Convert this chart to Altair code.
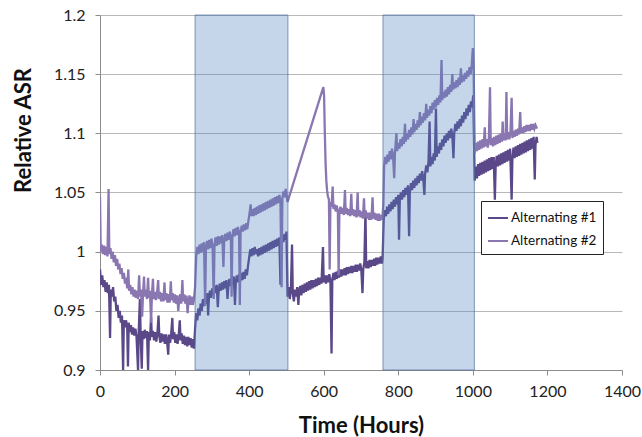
import altair as alt
import pandas as pd

# ---- data (time in hours, relative ASR) ----
alt1 = [  # Alternating #1 (dark)
    (0,0.985),(3,0.972),(6,0.980),(9,0.970),(12,0.976),(15,0.966),(18,0.974),(21,0.965),(24,0.972),(27,0.927),
    (29,0.968),(32,0.962),(35,0.970),(38,0.958),(41,0.962),(44,0.950),(47,0.955),(50,0.944),(53,0.950),(56,0.940),
    (59,0.946),(62,0.900),(64,0.942),(67,0.936),(70,0.942),(73,0.935),(75,0.903),(77,0.940),(80,0.932),(83,0.938),
    (86,0.930),(89,0.936),(92,0.929),(95,0.935),(98,0.928),(102,0.900),(104,0.934),(107,0.960),(109,0.930),(112,0.901),
    (114,0.933),(117,0.926),(120,0.934),(123,0.927),(126,0.933),(129,0.900),(131,0.932),(134,0.925),(137,0.945),(139,0.928),
    (142,0.933),(145,0.925),(148,0.932),(151,0.924),(154,0.931),(157,0.946),(159,0.929),(162,0.923),(165,0.931),(168,0.924),
    (171,0.930),(174,0.922),(177,0.930),(180,0.924),(183,0.913),(185,0.930),(188,0.923),(191,0.931),(194,0.944),(196,0.926),
    (199,0.932),(202,0.923),(205,0.930),(208,0.922),(211,0.929),(214,0.942),(216,0.925),(219,0.931),(222,0.922),(225,0.929),
    (228,0.921),(231,0.928),(234,0.920),(237,0.928),(240,0.921),(243,0.927),(246,0.919),(249,0.926),(252,0.918),
    (255,0.935),(258,0.948),(261,0.942),(264,0.952),(267,0.946),(270,0.956),(273,0.950),(276,0.960),(279,0.954),(282,0.962),
    (285,0.956),(288,0.965),(290,0.946),(292,0.960),(295,0.967),(298,0.961),(301,0.969),(304,0.963),(307,0.971),(310,0.965),
    (313,0.972),(316,0.953),(318,0.966),(321,0.973),(324,0.967),(327,0.974),(330,0.968),(333,0.975),(336,0.969),(339,0.976),
    (342,0.960),(344,0.970),(347,0.977),(350,0.971),(353,0.978),(356,0.972),(359,0.979),(362,0.955),(364,0.973),(367,0.980),
    (370,0.974),(373,0.981),(376,0.975),(379,0.982),(382,0.976),(385,0.983),(388,0.977),(391,0.985),(394,0.980),(397,0.988),
    (400,0.995),(403,1.002),(406,0.996),(409,1.003),(412,0.997),(415,1.004),(418,0.998),(421,1.002),(424,0.996),(427,1.003),
    (430,0.997),(433,1.004),(436,0.998),(439,1.005),(442,0.999),(445,1.006),(448,1.000),(451,1.007),(454,1.001),(457,1.008),
    (460,1.002),(463,1.009),(466,1.003),(469,1.010),(472,1.004),(475,1.011),(478,1.005),(481,1.012),(484,0.972),(486,1.007),
    (489,1.014),(492,1.008),(495,1.015),(498,1.010),(500,1.017),
    (503,0.962),(506,0.970),(509,0.960),(512,0.968),(515,1.006),(517,0.965),(520,0.958),(523,0.968),(526,0.962),(529,0.970),
    (532,0.955),(534,0.966),(537,0.971),(540,0.963),(543,0.972),(546,0.965),(549,0.973),(552,0.966),(555,0.974),(558,0.967),
    (561,0.975),(564,0.968),(567,0.976),(570,0.969),(573,0.976),(576,0.970),(579,0.977),(582,0.971),(585,0.978),(588,0.972),
    (591,0.978),(594,0.973),(598,1.004),(600,0.974),(603,0.980),(606,0.973),(609,0.980),(612,0.974),(615,0.981),(618,0.975),
    (621,0.914),(623,0.976),(626,0.982),(629,0.976),(632,0.983),(635,0.977),(638,0.984),(641,0.978),(644,0.985),(647,0.979),
    (650,0.985),(653,0.980),(656,0.986),(659,0.980),(662,0.987),(665,0.981),(668,0.987),(671,0.982),(674,0.988),(677,0.982),
    (680,0.988),(683,0.983),(686,0.989),(689,0.983),(692,0.989),(695,0.984),(698,0.990),(701,0.984),(704,0.965),(706,0.985),
    (709,0.991),(712,1.035),(714,0.986),(717,0.992),(720,0.986),(723,0.993),(726,0.987),(729,0.993),(732,0.988),(735,0.994),
    (738,0.988),(741,0.995),(744,0.989),(747,0.995),(750,0.990),(753,0.996),(756,0.990),(758,0.995),
    (761,1.028),(764,1.035),(767,1.030),(770,1.038),(773,1.032),(776,1.040),(779,1.034),(782,1.042),(785,1.036),(788,1.044),
    (791,1.038),(794,1.046),(797,1.040),(800,1.048),(802,1.010),(804,1.043),(807,1.050),(810,1.044),(813,1.052),(816,1.046),
    (819,1.054),(822,1.048),(826,1.056),(829,1.013),(831,1.050),(834,1.058),(837,1.052),(840,1.060),(843,1.054),(846,1.062),
    (849,1.056),(852,1.064),(855,1.058),(858,1.066),(861,1.060),(864,1.068),(867,1.062),(870,1.048),(872,1.066),(875,1.073),
    (878,1.067),(881,1.076),(884,1.110),(886,1.072),(889,1.080),(892,1.074),(895,1.083),(898,1.077),(901,1.121),(903,1.080),
    (906,1.089),(909,1.083),(912,1.092),(915,1.086),(918,1.095),(921,1.089),(924,1.098),(927,1.092),(930,1.100),(933,1.094),
    (936,1.102),(939,1.096),(942,1.104),(945,1.098),(948,1.079),(950,1.100),(953,1.108),(956,1.102),(959,1.110),(962,1.104),
    (965,1.112),(968,1.106),(971,1.115),(974,1.109),(977,1.118),(980,1.112),(983,1.121),(986,1.115),(989,1.124),(992,1.118),
    (995,1.127),(998,1.122),(1001,1.132),
    (1005,1.060),(1008,1.072),(1011,1.062),(1014,1.074),(1017,1.064),(1020,1.075),(1023,1.065),(1026,1.076),(1029,1.066),
    (1032,1.077),(1035,1.067),(1038,1.078),(1041,1.068),(1044,1.079),(1047,1.069),(1050,1.080),(1053,1.070),(1056,1.080),
    (1059,1.044),(1061,1.071),(1064,1.081),(1067,1.072),(1070,1.082),(1073,1.073),(1076,1.083),(1079,1.074),(1082,1.084),
    (1085,1.075),(1088,1.085),(1091,1.076),(1094,1.086),(1097,1.077),(1100,1.087),(1104,1.044),(1106,1.078),(1109,1.088),
    (1112,1.079),(1115,1.089),(1118,1.080),(1121,1.090),(1124,1.081),(1127,1.091),(1130,1.082),(1133,1.092),(1136,1.083),
    (1139,1.093),(1142,1.084),(1145,1.094),(1148,1.085),(1151,1.095),(1154,1.086),(1157,1.096),(1160,1.087),(1163,1.097),
    (1166,1.061),(1168,1.090),(1171,1.097),(1173,1.092),
]

alt2 = [  # Alternating #2 (light)
    (0,1.046),(2,1.000),(5,1.006),(8,0.998),(11,1.005),(14,0.997),(17,1.004),(20,0.996),(23,1.053),(25,0.998),
    (28,1.003),(31,0.994),(34,1.000),(37,0.991),(40,0.997),(43,0.988),(46,0.994),(49,0.985),(52,0.990),(55,0.981),
    (58,0.986),(61,0.977),(64,0.982),(67,0.973),(70,0.978),(73,0.969),(76,0.985),(78,0.967),(81,0.972),(84,0.964),
    (87,0.970),(90,0.962),(93,0.968),(96,0.961),(99,0.967),(102,0.960),(105,0.980),(107,0.962),(110,0.968),(113,0.945),
    (115,0.961),(118,0.979),(120,0.962),(123,0.968),(126,0.960),(129,0.978),(131,0.961),(134,0.967),(137,0.940),(139,0.962),
    (142,0.977),(144,0.960),(147,0.966),(150,0.959),(153,0.965),(156,0.976),(158,0.960),(161,0.966),(164,0.958),(167,0.965),
    (170,0.958),(173,0.974),(175,0.959),(178,0.965),(181,0.957),(184,0.964),(187,0.957),(190,0.975),(192,0.959),(195,0.965),
    (198,0.957),(201,0.964),(204,0.956),(207,0.963),(210,0.950),(212,0.958),(215,0.964),(218,0.956),(221,0.976),(223,0.958),
    (226,0.964),(229,0.956),(232,0.963),(235,0.948),(237,0.957),(240,0.963),(243,0.955),(246,0.962),(249,0.955),(252,0.960),
    (255,0.970),(258,0.996),(261,1.004),(264,0.998),(267,1.006),(270,0.999),(273,1.007),(276,1.000),(279,1.008),(282,0.954),
    (284,1.002),(287,1.009),(290,1.002),(293,1.010),(296,1.003),(299,1.011),(302,1.004),(305,0.960),(307,1.005),(310,1.012),
    (313,1.005),(316,1.013),(319,1.006),(322,1.013),(325,1.007),(328,1.014),(331,0.987),(333,1.008),(336,1.015),(339,1.009),
    (342,1.016),(345,1.010),(348,1.017),(351,1.011),(353,0.962),(355,1.012),(358,1.019),(361,1.013),(364,1.020),(367,1.014),
    (370,1.021),(373,1.015),(375,0.955),(377,1.016),(380,1.022),(383,1.017),(386,1.023),(389,1.018),(392,1.024),(395,1.019),
    (398,1.026),(401,1.032),(404,1.040),(406,1.030),(409,1.036),(412,1.030),(415,1.037),(418,1.031),(421,1.038),(424,1.032),
    (427,1.039),(430,1.033),(433,1.040),(436,1.034),(439,1.041),(442,1.035),(445,1.042),(448,1.036),(451,1.043),(454,1.037),
    (457,1.044),(460,1.038),(463,1.045),(466,1.039),(469,1.046),(472,1.040),(475,1.047),(478,1.041),(481,1.048),(484,1.042),
    (487,0.970),(489,1.045),(492,1.051),(495,1.046),(498,1.053),(500,1.048),
    (503,1.042),(599,1.139),(601,1.132),(603,1.100),(605,1.075),(607,1.060),(609,1.052),(611,1.047),(614,1.044),(616,0.985),
    (618,1.042),(621,1.038),(624,1.055),(626,1.036),(629,1.040),(632,1.034),(635,1.039),(638,1.033),(640,0.980),(642,1.034),
    (645,1.038),(648,1.032),(651,1.037),(654,1.031),(657,1.052),(659,1.032),(662,1.037),(665,1.031),(668,1.036),(671,1.030),
    (674,1.049),(676,1.031),(679,1.036),(682,1.030),(685,1.035),(688,1.029),(691,1.050),(693,1.030),(696,1.035),(699,1.029),
    (702,1.034),(705,1.028),(708,1.045),(710,1.029),(713,1.034),(716,1.028),(719,1.033),(722,1.027),(725,1.033),(728,1.027),
    (731,1.046),(733,1.028),(736,1.033),(739,1.027),(742,1.032),(745,1.026),(748,1.032),(751,1.026),(754,1.031),(757,1.027),
    (760,1.040),(762,1.072),(765,1.080),(768,1.074),(771,1.082),(774,1.076),(777,1.085),(780,1.078),(783,1.087),(786,1.081),
    (789,1.062),(791,1.083),(795,1.100),(797,1.085),(800,1.092),(803,1.087),(806,1.095),(809,1.089),(812,1.097),(815,1.091),
    (818,1.108),(820,1.093),(823,1.100),(826,1.095),(829,1.103),(832,1.097),(835,1.105),(838,1.099),(841,1.112),(843,1.101),
    (846,1.108),(849,1.103),(852,1.111),(855,1.105),(858,1.118),(860,1.107),(863,1.114),(866,1.109),(869,1.117),(872,1.111),
    (875,1.125),(877,1.113),(880,1.120),(883,1.115),(886,1.123),(889,1.117),(892,1.126),(895,1.120),(898,1.128),(901,1.122),
    (904,1.130),(907,1.124),(910,1.132),(913,1.126),(916,1.162),(918,1.128),(921,1.135),(924,1.130),(927,1.137),(930,1.131),
    (933,1.139),(936,1.133),(939,1.141),(942,1.135),(945,1.150),(947,1.137),(950,1.143),(953,1.138),(956,1.145),(959,1.139),
    (962,1.147),(965,1.141),(968,1.155),(970,1.143),(973,1.149),(976,1.144),(979,1.151),(982,1.146),(985,1.153),(988,1.148),
    (991,1.156),(994,1.150),(997,1.158),(1000,1.172),(1002,1.155),
    (1005,1.083),(1008,1.092),(1011,1.085),(1014,1.093),(1017,1.086),(1020,1.094),(1023,1.087),(1026,1.095),(1029,1.088),
    (1032,1.105),(1034,1.089),(1037,1.095),(1040,1.088),(1043,1.096),(1046,1.139),(1048,1.090),(1051,1.096),(1054,1.089),
    (1057,1.097),(1060,1.090),(1063,1.098),(1066,1.091),(1069,1.099),(1072,1.092),(1075,1.100),(1078,1.093),(1080,1.110),
    (1082,1.094),(1085,1.100),(1088,1.094),(1090,1.135),(1092,1.095),(1095,1.101),(1098,1.095),(1101,1.102),(1104,1.130),
    (1106,1.096),(1109,1.102),(1112,1.097),(1115,1.103),(1118,1.098),(1121,1.104),(1124,1.099),(1127,1.118),(1129,1.100),
    (1132,1.105),(1135,1.100),(1138,1.106),(1141,1.101),(1144,1.107),(1147,1.102),(1150,1.107),(1153,1.102),(1156,1.108),
    (1159,1.103),(1162,1.108),(1165,1.104),(1168,1.107),(1172,1.104),
]

series_names = ["Alternating #1", "Alternating #2"]
series_colors = ["#5a4888", "#8a76b0"]

shade_start = [255, 759]
shade_end = [504, 1004]

x_ticks = [0, 200, 400, 600, 800, 1000, 1200, 1400]
y_ticks = [0.9, 0.95, 1.0, 1.05, 1.1, 1.15, 1.2]

# ---- build tables ----
rows = []
for name, pts in zip(series_names, [alt1, alt2]):
    for i, (t, v) in enumerate(pts):
        rows.append({"series": name, "t": t, "v": v, "i": i})
df = pd.DataFrame(rows)
shade_df = pd.DataFrame({"start": shade_start, "end": shade_end})

FONT = "Lato"

x_scale = alt.Scale(domain=[0, 1400], nice=False, zero=False)
y_scale = alt.Scale(domain=[0.9, 1.2], nice=False, zero=False)

lines = alt.Chart(df).mark_line(strokeWidth=2.3, clip=True).encode(
    x=alt.X("t:Q", scale=x_scale,
            axis=alt.Axis(values=x_ticks, format="d", grid=False, title="Time (Hours)",
                          labelFontSize=16, titleFontSize=22, titleFont=FONT, labelFont=FONT,
                          titleFontWeight="bold", labelColor="#222222", titleColor="#111111",
                          domainColor="#8c8c8c", tickColor="#8c8c8c", tickSize=5,
                          labelPadding=8, titlePadding=16, labelFlush=False)),
    y=alt.Y("v:Q", scale=y_scale,
            axis=alt.Axis(values=y_ticks, format=".3~g", grid=True, gridColor="#b8b8b8",
                          title="Relative ASR", labelFontSize=16, titleFontSize=22,
                          titleFont=FONT, labelFont=FONT, titleFontWeight="bold",
                          labelColor="#222222", titleColor="#111111",
                          domainColor="#8c8c8c", tickColor="#8c8c8c", tickSize=5,
                          labelPadding=10, titleX=-65, titleY=115, titleAlign="center",
                          titleBaseline="bottom", labelFlush=False)),
    color=alt.Color("series:N", scale=alt.Scale(domain=series_names, range=series_colors),
                    legend=alt.Legend(title=None, orient="none", legendX=381, legendY=186,
                                      fillColor="white", strokeColor="#222222", padding=6,
                                      symbolType="stroke", symbolSize=400, symbolStrokeWidth=2,
                                      labelFont=FONT, labelFontSize=13.5, labelColor="#111111",
                                      rowPadding=5, labelOffset=2)),
    order="i:Q",
)

shade = alt.Chart(shade_df).mark_rect(
    fill="#4f81bd", fillOpacity=0.32, stroke="#4f6f9f", strokeOpacity=0.7, strokeWidth=1
).encode(
    x=alt.X("start:Q", scale=x_scale),
    x2="end:Q",
    y=alt.datum(0.9, scale=y_scale),
    y2=alt.datum(1.2),
)

chart = alt.layer(lines, shade).properties(
    width=522, height=355,
    autosize=alt.AutoSizeParams(type="none"),
    padding={"left": 100, "top": 15, "right": 20, "bottom": 67},
    background="white",
).configure_view(stroke=None)

chart.save("out.html", embed_options={"renderer": "svg", "actions": False})
